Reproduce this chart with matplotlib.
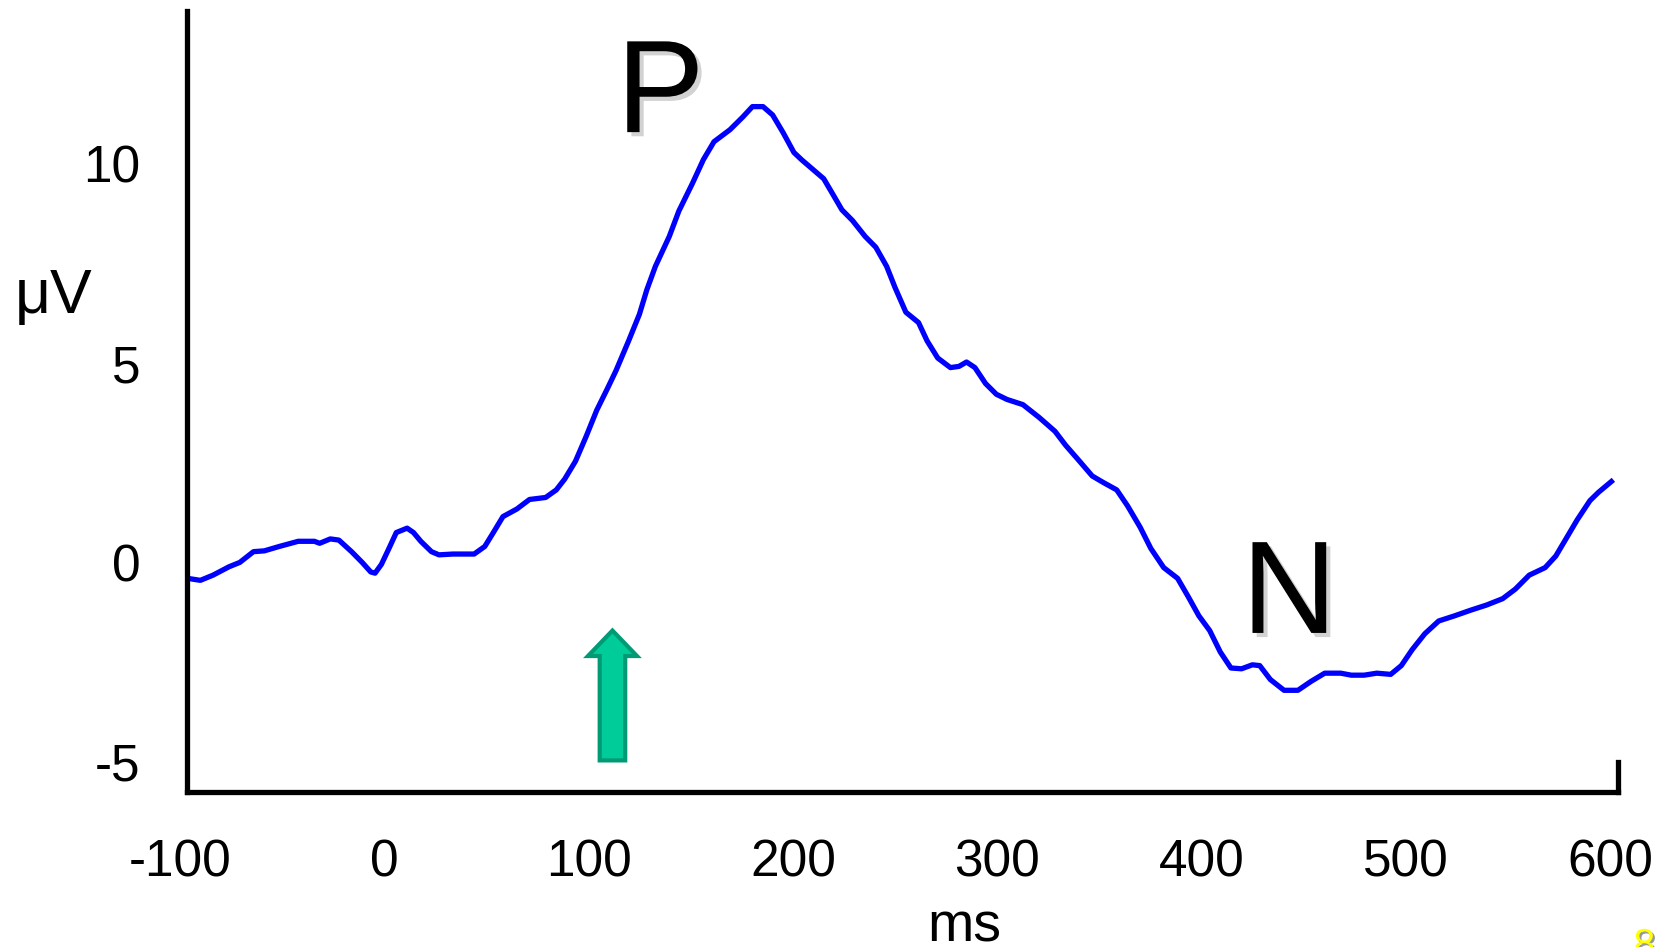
import matplotlib
matplotlib.use("Agg")
import matplotlib.pyplot as plt
import matplotlib.patheffects as pe
from matplotlib.transforms import ScaledTranslation

plt.rcParams['font.family'] = ['Liberation Sans', 'DejaVu Sans']
plt.rcParams['axes.unicode_minus'] = False

# ERP waveform (time in ms, amplitude in microvolts)
time_ms = [-100, -93.7, -87.5, -79.7, -74.4, -67.7, -62.4, -55.1, -45.8, -37.9,
           -35.3, -30.1, -25.9, -19.7, -14.5, -10.3, -8.2, -5.1, -1.4, 2.2,
           7.5, 10.6, 14.2, 19.4, 23.1, 29.9, 40.3, 45.5, 49.7, 54.4,
           61.2, 67.4, 75.3, 80.5, 84.6, 89.9, 95.1, 100.3, 105.5, 109.7,
           115.9, 121.2, 124.8, 129.0, 135.8, 140.5, 147.2, 152.5, 157.7, 165.5,
           171.8, 176.5, 181.7, 186.4, 191.6, 196.8, 200.5, 211.4, 216.1, 220.3,
           225.5, 231.7, 236.9, 242.2, 246.3, 251.6, 257.8, 262.0, 267.2, 273.4,
           277.6, 281.3, 285.4, 290.6, 295.9, 301.1, 308.9, 316.8, 324.6, 329.8,
           336.1, 342.8, 348.1, 354.8, 360.1, 366.3, 371.5, 377.8, 384.6, 389.8,
           395.0, 400.3, 405.5, 410.7, 415.9, 421.2, 424.8, 430.0, 436.7, 443.5,
           449.8, 456.6, 464.4, 469.6, 475.9, 482.1, 488.9, 494.1, 499.4, 505.6,
           512.4, 520.2, 528.0, 535.8, 543.7, 549.9, 556.7, 564.5, 569.7, 574.9,
           580.2, 586.4, 590.6, 596.9]
amplitude_uv = [-0.40, -0.45, -0.32, -0.11, 0.00, 0.27, 0.29, 0.40, 0.53, 0.53,
                0.48, 0.59, 0.56, 0.27, 0.00, -0.24, -0.27, -0.05, 0.35, 0.75,
                0.86, 0.75, 0.53, 0.27, 0.19, 0.21, 0.21, 0.40, 0.75, 1.15,
                1.34, 1.58, 1.63, 1.82, 2.09, 2.54, 3.16, 3.82, 4.36, 4.81,
                5.56, 6.23, 6.84, 7.43, 8.18, 8.82, 9.52, 10.11, 10.56, 10.86,
                11.18, 11.44, 11.44, 11.23, 10.78, 10.29, 10.11, 9.63, 9.22, 8.85,
                8.58, 8.18, 7.91, 7.43, 6.90, 6.28, 6.02, 5.56, 5.13, 4.89,
                4.92, 5.03, 4.89, 4.49, 4.22, 4.09, 3.96, 3.64, 3.29, 2.94,
                2.57, 2.17, 2.01, 1.82, 1.42, 0.88, 0.35, -0.13, -0.40, -0.86,
                -1.34, -1.71, -2.25, -2.65, -2.67, -2.57, -2.59, -2.94, -3.21, -3.21,
                -2.99, -2.78, -2.78, -2.83, -2.83, -2.78, -2.81, -2.59, -2.19, -1.79,
                -1.47, -1.34, -1.20, -1.07, -0.91, -0.67, -0.32, -0.13, 0.16, 0.61,
                1.07, 1.55, 1.76, 2.03]

x_ticks = [-100, 0, 100, 200, 300, 400, 500, 600]
y_ticks = [-5, 0, 5, 10]
peak_labels = ['P', 'N']
peak_pos = [(131.5, 10.80), (439.3, -1.77)]
arrow_time = 108.0
arrow_from, arrow_to = -4.97, -1.71

fig = plt.figure(figsize=(16.71, 9.47), dpi=100)
ax = fig.add_axes([0.1122, 0.1642, 0.8559, 0.8246])

ax.plot(time_ms, amplitude_uv, color='#0000FF', lw=3.8, solid_joinstyle='round')

ax.set_xlim(-100, 600)
ax.set_ylim(-5.75, 13.85)
ax.set_xticks(x_ticks)
ax.set_yticks(y_ticks)
ax.tick_params(axis='both', length=0, labelsize=37)
ax.tick_params(axis='x', pad=34)
ax.tick_params(axis='y', pad=34)

# tick labels in the original sit a little left of their positions
shift = ScaledTranslation(-0.075, 0, fig.dpi_scale_trans)
for lbl in ax.get_xticklabels():
    lbl.set_transform(lbl.get_transform() + shift)

ax.spines['top'].set_visible(False)
for side in ['left', 'bottom', 'right']:
    ax.spines[side].set_linewidth(3.8)
ax.spines['right'].set_bounds(-5.75, -5.0)

shadow = [pe.withSimplePatchShadow(offset=(3, -3), shadow_rgbFace='gray', alpha=0.35)]
for lab, (tx, ty) in zip(peak_labels, peak_pos):
    ax.text(tx, ty, lab, fontsize=95, ha='center', va='baseline', color='black',
            path_effects=shadow)

ax.arrow(arrow_time, arrow_from, 0, arrow_to - arrow_from, width=12.5, head_width=24,
         head_length=0.64, length_includes_head=True, fc='#00CC99', ec='#009B74', lw=3)

fig.text(0.0319, 0.669, 'μV', fontsize=45, ha='center', va='baseline')
fig.text(905 / 1568, 1 - 883.5 / 889, 'ms', fontsize=40, ha='center', va='baseline')
fig.text(0.9841, -0.0095, '8', fontsize=28, color='#FFFF00', ha='center', va='baseline',
         path_effects=[pe.withSimplePatchShadow(offset=(1.5, -1.5), shadow_rgbFace='#555555',
                                                 alpha=0.6)])

fig.savefig('out.png', dpi=100)
